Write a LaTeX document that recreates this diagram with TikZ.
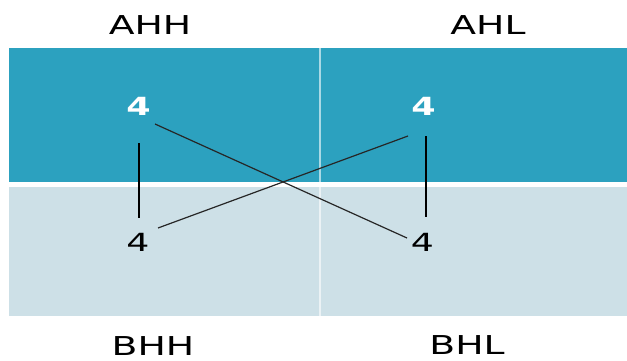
\documentclass[tikz,border=0pt]{standalone}
\usepackage{fontspec}
\setmainfont{DejaVu Sans}
\definecolor{teal1}{RGB}{44,161,191}
\definecolor{light1}{RGB}{205,224,231}
\begin{document}
\begin{tikzpicture}[x=1pt,y=-1pt,
  lbl/.style={anchor=base, inner sep=0pt, text=black, font=\fontsize{26}{26}\selectfont},
  numw/.style={anchor=base, inner sep=0pt, text=white, font=\fontsize{25}{25}\selectfont\bfseries},
  numb/.style={anchor=base, inner sep=0pt, text=black, font=\fontsize{25}{25}\selectfont},
  link/.style={draw=black, line width=1.4pt},
  xlink/.style={draw=black!85, line width=1.2pt}]
\useasboundingbox (0,0) rectangle (627,361);
\fill[white] (0,0) rectangle (627,361);
% bands
\fill[teal1] (9,48) rectangle (627,182);
\fill[light1] (9,187) rectangle (627,316);
\draw[white, opacity=0.6, line width=2pt] (320,48) -- (320,316);
% column labels
\node[lbl] (ahh) at (150,35) {\scalebox{1.45}[1]{AHH}};
\node[lbl] (ahl) at (488,35) {\scalebox{1.45}[1]{AHL}};
\node[lbl] (bhh) at (153,355) {\scalebox{1.45}[1]{BHH}};
\node[lbl] (bhl) at (467,354) {\scalebox{1.45}[1]{BHL}};
% numbers
\node[numw] (n1) at (138.5,116) {\scalebox{1.4}[1]{4}};
\node[numw] (n2) at (423.5,116) {\scalebox{1.4}[1]{4}};
\node[numb] (n3) at (138,251) {\scalebox{1.45}[1]{4}};
\node[numb] (n4) at (422.5,251) {\scalebox{1.45}[1]{4}};
% connector ends
\coordinate (a1) at (139,143);
\coordinate (a2) at (139,218);
\coordinate (b1) at (426,136);
\coordinate (b2) at (426,217);
\coordinate (c1) at (155,124);
\coordinate (c2) at (407,238);
\coordinate (d1) at (408,136);
\coordinate (d2) at (158,228);
\draw[link] (a1) -- (a2);
\draw[link] (b1) -- (b2);
\draw[xlink] (c1) -- (c2);
\draw[xlink] (d1) -- (d2);
\end{tikzpicture}
\end{document}
